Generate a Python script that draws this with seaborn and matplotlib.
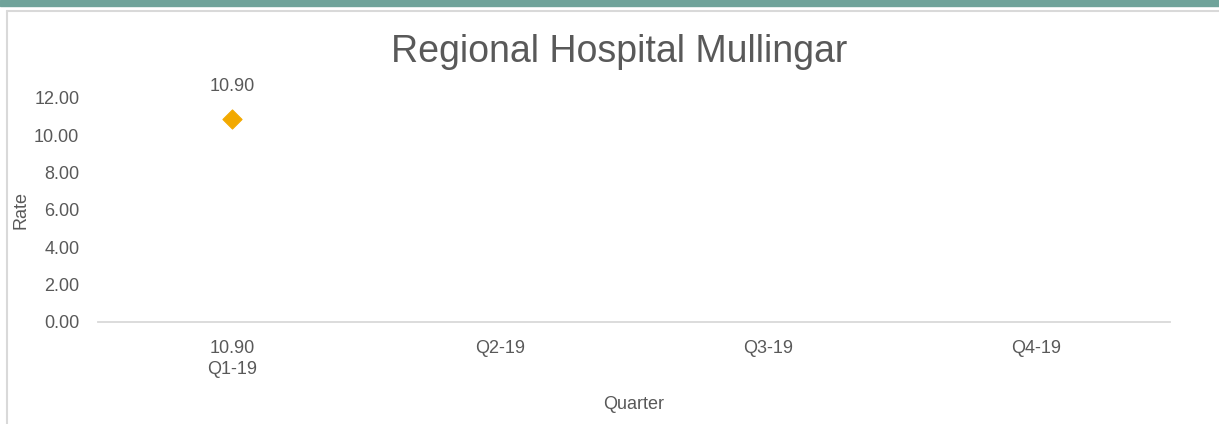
import numpy as np
import pandas as pd
import matplotlib
matplotlib.use("Agg")
import matplotlib.pyplot as plt
import seaborn as sns

quarters = ["Q1-19", "Q2-19", "Q3-19", "Q4-19"]
rates = [10.90, np.nan, np.nan, np.nan]
y_ticks = [0, 2, 4, 6, 8, 10, 12]

df = pd.DataFrame({"Quarter": quarters, "Rate": rates})

sns.set_style("white")
plt.rcParams['font.family'] = ['Liberation Sans', 'DejaVu Sans']
grey = "#595959"

fig = plt.figure(figsize=(12.19, 4.24), dpi=100)
ax = fig.add_axes([0.0804, 0.2406, 0.8794, 0.5283])

sns.scatterplot(data=df, x="Quarter", y="Rate", marker="D", s=95,
                color="#F2A900", edgecolor="#F2A900", ax=ax, zorder=3)

for i, v in enumerate(rates):
    if not np.isnan(v):
        ax.annotate(f"{v:.2f}", (i, v), xytext=(0, 17), textcoords="offset points",
                    ha="center", va="bottom", fontsize=13, color=grey)

ax.set_xlim(-0.5, len(quarters) - 0.5)
ax.set_ylim(0, 12)
ax.set_yticks(y_ticks)
ax.set_yticklabels([f"{t:.2f}" for t in y_ticks], fontsize=13, color=grey)
ax.set_xticks(range(len(quarters)))
xlabels = [(f"{v:.2f}\n{q}" if not np.isnan(v) else q) for q, v in zip(quarters, rates)]
ax.set_xticklabels(xlabels, fontsize=13, color=grey, va="top", linespacing=1.3)
ax.tick_params(axis="y", length=0, pad=13.5)
ax.tick_params(axis="x", length=0, pad=13)

for side in ["top", "right", "left"]:
    ax.spines[side].set_visible(False)
ax.spines["bottom"].set_color("#d9d9d9")
ax.spines["bottom"].set_linewidth(1.3)

ax.set_xlabel("Quarter", fontsize=13, color=grey)
ax.set_ylabel("Rate", fontsize=13, color=grey)
ax.yaxis.set_label_coords(-0.064, 0.5)
ax.xaxis.set_label_coords(0.5, -0.33)

fig.text(0.508, 0.877, "Regional Hospital Mullingar", ha="center", va="center",
         fontsize=27, color=grey)

# teal band at top and light frame around the chart
fig.patches.append(plt.Rectangle((0, 1 - 6 / 424), 1, 6 / 424, transform=fig.transFigure,
                                 color="#6fa39a", zorder=0))
fig.lines.append(plt.Line2D([7 / 1219, 7 / 1219], [0, 1 - 11 / 424], transform=fig.transFigure,
                            color="#d9d9d9", lw=1.5))
fig.lines.append(plt.Line2D([7 / 1219, 1], [1 - 11 / 424, 1 - 11 / 424], transform=fig.transFigure,
                            color="#d9d9d9", lw=1.5))

fig.savefig("out.png", dpi=100)
